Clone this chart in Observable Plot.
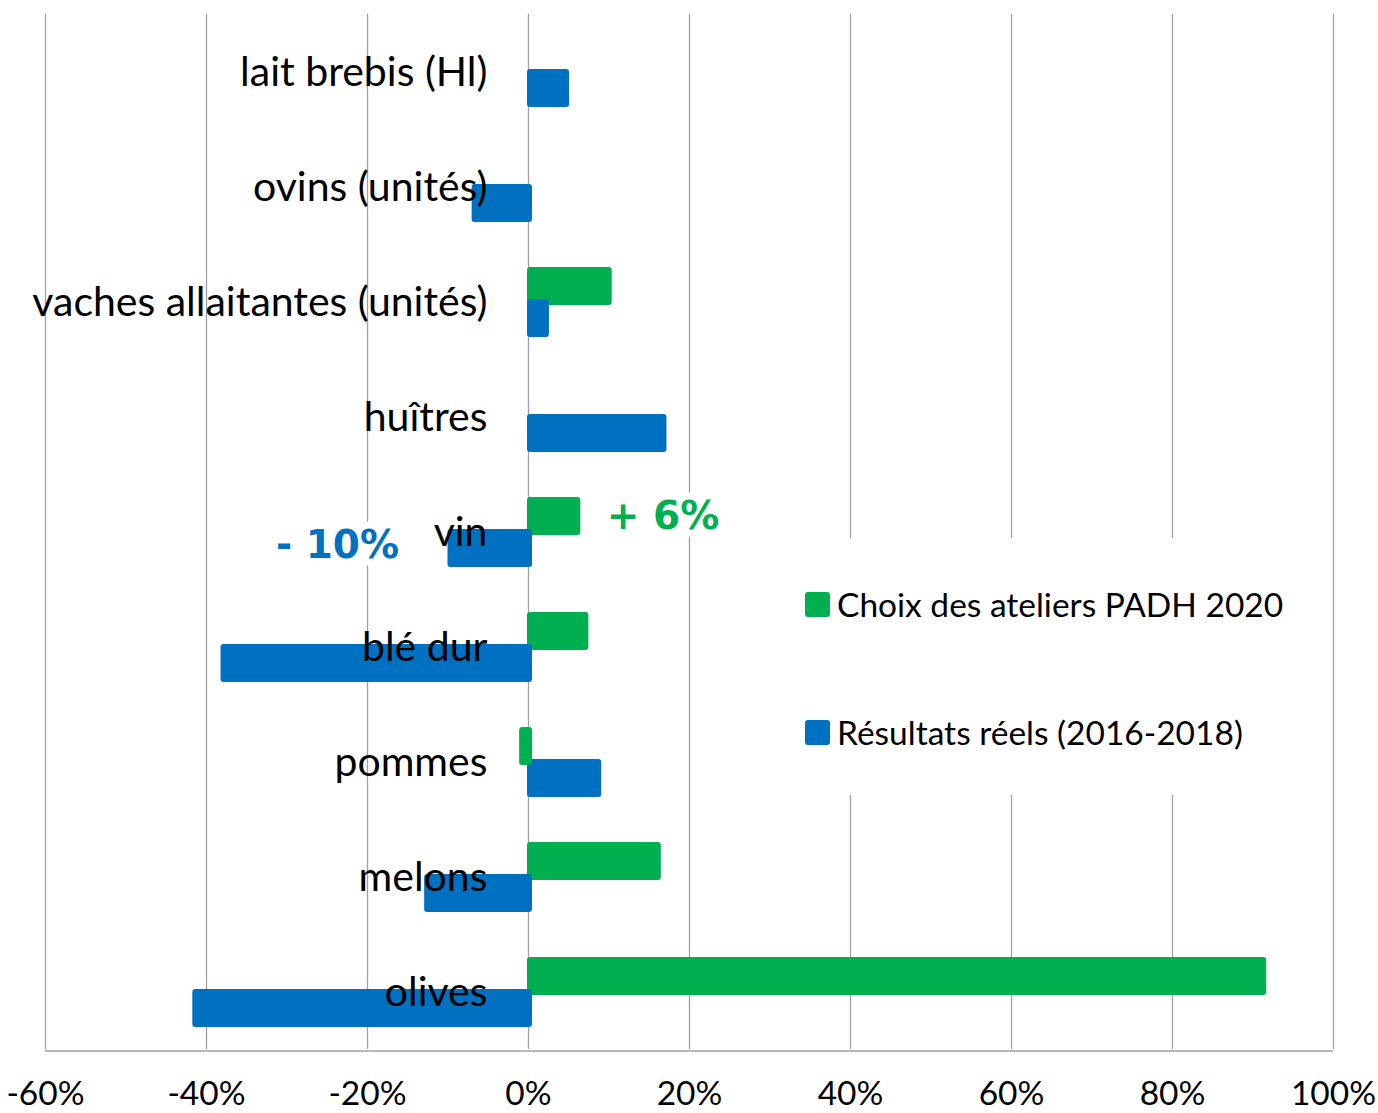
<!DOCTYPE html>
<html><head><meta charset="utf-8">
<script src="https://cdn.jsdelivr.net/npm/d3@7"></script>
<script src="https://cdn.jsdelivr.net/npm/@observablehq/plot@0.6"></script>
<style>
body{margin:0;background:#fff;}
#wrap{position:relative;width:1378px;height:1113px;overflow:hidden;}
#legend{position:absolute;left:790px;top:538px;width:500px;height:257px;background:#fff;font-family:Lato,sans-serif;font-size:33.5px;color:#000;}
.item{position:absolute;left:15px;height:40px;display:flex;align-items:center;white-space:nowrap;}
.sw{width:25px;height:25px;border-radius:3px;margin-right:7px;flex:none;}
</style></head><body><div id="wrap"></div>
<script>
const categories = ["lait brebis (Hl)", "ovins (unités)", "vaches allaitantes (unités)", "huîtres", "vin", "blé dur", "pommes", "melons", "olives"];
const seriesNames = ["Choix des ateliers PADH 2020", "Résultats réels (2016-2018)"];
const seriesColors = ["#00B050", "#0070C0"];
const choixValues = [null, null, 0.104, null, 0.065, 0.075, -0.011, 0.165, 0.917];
const resultatsValues = [0.051, -0.07, 0.026, 0.172, -0.10, -0.382, 0.091, -0.129, -0.417];
const tickValues = [-0.6, -0.4, -0.2, 0, 0.2, 0.4, 0.6, 0.8, 1.0];
const tickLabels = ["-60%", "-40%", "-20%", "0%", "20%", "40%", "60%", "80%", "100%"];
const annotationCategory = "vin";
const annotationLabels = ["+ 6%", "- 10%"];

const seriesValues = [choixValues, resultatsValues];
const rows = [];
categories.forEach((c, i) => {
  seriesNames.forEach((s, j) => {
    const v = seriesValues[j][i];
    if (v != null) rows.push({category: c, series: s, value: v});
  });
});
const posRows = rows.filter(d => d.value >= 0);
const negRows = rows.filter(d => d.value < 0);
const ai = categories.indexOf(annotationCategory);
const annPos = [{category: annotationCategory, series: seriesNames[0], value: choixValues[ai], label: annotationLabels[0]}];
const annNeg = [{category: annotationCategory, series: seriesNames[1], value: resultatsValues[ai], label: annotationLabels[1]}];

const plot = Plot.plot({
  width: 1378,
  height: 1113,
  marginLeft: 45,
  marginRight: 45,
  marginTop: 12,
  marginBottom: 62,
  style: {fontFamily: "Lato, sans-serif", fontSize: "33.5px", color: "#000", background: "#fff", overflow: "visible"},
  fy: {domain: categories, padding: 0, axis: null},
  y: {domain: seriesNames, paddingInner: 0, paddingOuter: 0.748, axis: null},
  x: {domain: [-0.6, 1.0], ticks: tickValues, tickFormat: d => tickLabels[tickValues.indexOf(d)], tickSize: 0, tickPadding: 32, label: null},
  color: {domain: seriesNames, range: seriesColors},
  marks: [
    Plot.ruleX(tickValues, {stroke: "#a0a0a0", strokeWidth: 1.3}),
    Plot.barX(posRows, {fy: "category", y: "series", x: "value", fill: "series", insetTop: -3, insetBottom: -3, insetLeft: -1, rx: 3}),
    Plot.barX(negRows, {fy: "category", y: "series", x: "value", fill: "series", insetTop: -3, insetBottom: -3, insetRight: -4, rx: 3}),
    Plot.text(categories, {fy: d => d, x: () => 0, text: d => d, textAnchor: "end", dx: -41, dy: 1, fill: "#000", fontSize: 41, fontFamily: "Lato, sans-serif"}),
    Plot.text(annPos, {fy: "category", y: "series", x: "value", text: "label", textAnchor: "start", dx: 26, dy: 0, fill: seriesColors[0], fontFamily: "DejaVu Sans", fontWeight: "bold", fontSize: 39, stroke: "white", strokeWidth: 14, paintOrder: "stroke"}),
    Plot.text(annNeg, {fy: "category", y: "series", x: "value", text: "label", textAnchor: "end", dx: -49, dy: -3, fill: seriesColors[1], fontFamily: "DejaVu Sans", fontWeight: "bold", fontSize: 39, stroke: "white", strokeWidth: 14, paintOrder: "stroke"})
  ]
});

const xs = plot.scale("x");
d3.select(plot).append("line")
  .attr("x1", xs.apply(tickValues[0])).attr("x2", xs.apply(tickValues[tickValues.length - 1]))
  .attr("y1", 1113 - 62).attr("y2", 1113 - 62)
  .attr("stroke", "#a0a0a0").attr("stroke-width", 1.3);

const wrap = document.getElementById("wrap");
wrap.appendChild(plot);

const legend = d3.select(wrap).append("div").attr("id", "legend");
const itemTops = [46, 174];
seriesNames.forEach((s, j) => {
  const it = legend.append("div").attr("class", "item").style("top", itemTops[j] + "px");
  it.append("div").attr("class", "sw").style("background", seriesColors[j]);
  it.append("span").text(s);
});
</script>
</body></html>
